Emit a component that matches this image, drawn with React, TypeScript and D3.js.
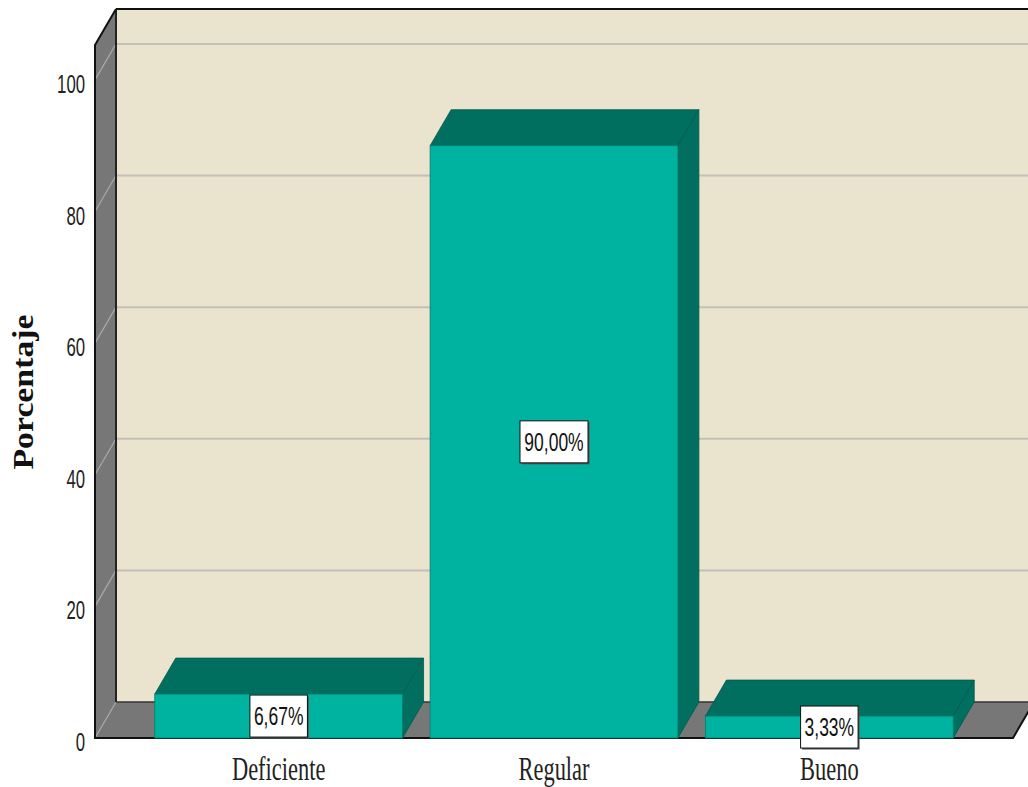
import React from "react";
import * as d3 from "d3";

const categories = ["Deficiente", "Regular", "Bueno"];
const values = [6.67, 90.0, 3.33];
const valueLabels = ["6,67%", "90,00%", "3,33%"];
const yTicks = [0, 20, 40, 60, 80, 100];
const yTickLabels = ["0", "20", "40", "60", "80", "100"];
const yTitle = "Porcentaje";

const W = 1028;
const H = 787;
const DX = 21;
const DY = -36;
const FRONT_LEFT = 95;
const FRONT_RIGHT = 1013;

const C_WALL = "#EAE3CE";
const C_SIDE = "#777777";
const C_FRONT = "#00B3A0";
const C_DARK = "#006F5F";
const C_GRID = "#C2C0BA";

export default function App() {
  const y = d3.scaleLinear().domain([0, 105.3]).range([738, 45]);
  const x = d3
    .scaleBand<string>()
    .domain(categories)
    .range([141, 967])
    .paddingInner(0.1)
    .paddingOuter(0.05);

  const y0 = y(0);
  const yTop = y(105.3);
  const bw = x.bandwidth();

  return (
    <svg
      width={W}
      height={H}
      style={{ position: "absolute", left: 0, top: 0, background: "#fff" }}
    >
      {/* back wall */}
      <rect
        x={FRONT_LEFT + DX}
        y={yTop + DY}
        width={W - FRONT_LEFT - DX + 20}
        height={y0 - yTop}
        fill={C_WALL}
      />
      {/* back wall gridlines */}
      {yTicks
        .filter((t) => t > 0)
        .map((t) => (
          <line
            key={"g" + t}
            x1={FRONT_LEFT + DX}
            x2={W + 20}
            y1={y(t) + DY}
            y2={y(t) + DY}
            stroke={C_GRID}
            strokeWidth={2}
          />
        ))}
      {/* left side wall */}
      <polygon
        points={[
          [FRONT_LEFT, y0],
          [FRONT_LEFT, yTop],
          [FRONT_LEFT + DX, yTop + DY],
          [FRONT_LEFT + DX, y0 + DY],
        ]
          .map((p) => p.join(","))
          .join(" ")}
        fill={C_SIDE}
      />
      {/* floor */}
      <polygon
        points={[
          [FRONT_LEFT, y0],
          [FRONT_LEFT + DX, y0 + DY],
          [FRONT_RIGHT + DX, y0 + DY],
          [FRONT_RIGHT, y0],
        ]
          .map((p) => p.join(","))
          .join(" ")}
        fill={C_SIDE}
      />
      {/* side wall diagonal gridlines */}
      {yTicks.map((t) => (
        <line
          key={"d" + t}
          x1={FRONT_LEFT}
          y1={y(t)}
          x2={FRONT_LEFT + DX}
          y2={y(t) + DY}
          stroke="#A9A9A9"
          strokeWidth={1.2}
        />
      ))}
      {/* borders */}
      <line x1={FRONT_LEFT + DX} x2={W + 20} y1={yTop + DY} y2={yTop + DY} stroke="#111" strokeWidth={2} />
      <line x1={FRONT_LEFT + DX} x2={FRONT_LEFT + DX} y1={yTop + DY} y2={y0 + DY} stroke="#222" strokeWidth={2} />
      <line x1={FRONT_LEFT + DX} x2={FRONT_RIGHT + DX} y1={y0 + DY} y2={y0 + DY} stroke="#333" strokeWidth={1.5} />
      <polyline
        points={[
          [FRONT_LEFT + DX, yTop + DY],
          [FRONT_LEFT, yTop],
          [FRONT_LEFT, y0],
          [FRONT_RIGHT, y0],
          [FRONT_RIGHT + DX, y0 + DY],
        ]
          .map((p) => p.join(","))
          .join(" ")}
        fill="none"
        stroke="#111"
        strokeWidth={2}
      />

      {/* bars */}
      {categories.map((c, i) => {
        const x0 = x(c)!;
        const x1 = x0 + bw;
        const yt = y(values[i]);
        return (
          <g key={c}>
            <polygon
              points={[
                [x0, yt],
                [x0 + DX, yt + DY],
                [x1 + DX, yt + DY],
                [x1, yt],
              ]
                .map((p) => p.join(","))
                .join(" ")}
              fill={C_DARK}
              stroke="#005A4D"
              strokeWidth={0.8}
            />
            <polygon
              points={[
                [x1, yt],
                [x1 + DX, yt + DY],
                [x1 + DX, y0 + DY],
                [x1, y0],
              ]
                .map((p) => p.join(","))
                .join(" ")}
              fill={C_DARK}
              stroke="#005A4D"
              strokeWidth={0.8}
            />
            <rect
              x={x0}
              y={yt}
              width={bw}
              height={y0 - yt}
              fill={C_FRONT}
              stroke="#007D6E"
              strokeWidth={0.8}
            />
          </g>
        );
      })}

      {/* value labels */}
      {categories.map((c, i) => {
        const xc = x(c)! + bw / 2;
        const yc = (y(values[i]) + y0) / 2;
        const lbl = valueLabels[i];
        const bwid = 10.5 * lbl.length + 5;
        const bh = 42;
        return (
          <g key={"l" + c}>
            <rect x={xc - bwid / 2 + 1.5} y={yc - bh / 2 + 1.5} width={bwid} height={bh} fill="#555" />
            <rect x={xc - bwid / 2} y={yc - bh / 2} width={bwid} height={bh} fill="#fff" stroke="#111" strokeWidth={1} />
            <text
              transform={`translate(${xc},${yc + 9}) scale(0.7,1)`}
              textAnchor="middle"
              fontFamily="Liberation Sans, Arial, sans-serif"
              fontSize={25}
              fill="#111"
            >
              {lbl}
            </text>
          </g>
        );
      })}

      {/* y tick labels */}
      {yTicks.map((t, i) => (
        <text
          key={"t" + t}
          transform={`translate(85,${y(t) + 13}) scale(0.67,1)`}
          textAnchor="end"
          fontFamily="Liberation Sans, Arial, sans-serif"
          fontSize={25}
          fill="#222"
        >
          {yTickLabels[i]}
        </text>
      ))}

      {/* category labels */}
      {categories.map((c) => (
        <text
          key={"c" + c}
          transform={`translate(${x(c)! + bw / 2},780) scale(0.66,1)`}
          textAnchor="middle"
          fontFamily="Liberation Serif, Times New Roman, serif"
          fontSize={34}
          fill="#222"
        >
          {c}
        </text>
      ))}

      {/* y title */}
      <text
        transform="translate(33,392) rotate(-90)"
        textAnchor="middle"
        fontFamily="Liberation Serif, Times New Roman, serif"
        fontWeight="bold"
        fontSize={30}
        textLength={155}
        lengthAdjust="spacingAndGlyphs"
        fill="#111"
      >
        {yTitle}
      </text>
    </svg>
  );
}
